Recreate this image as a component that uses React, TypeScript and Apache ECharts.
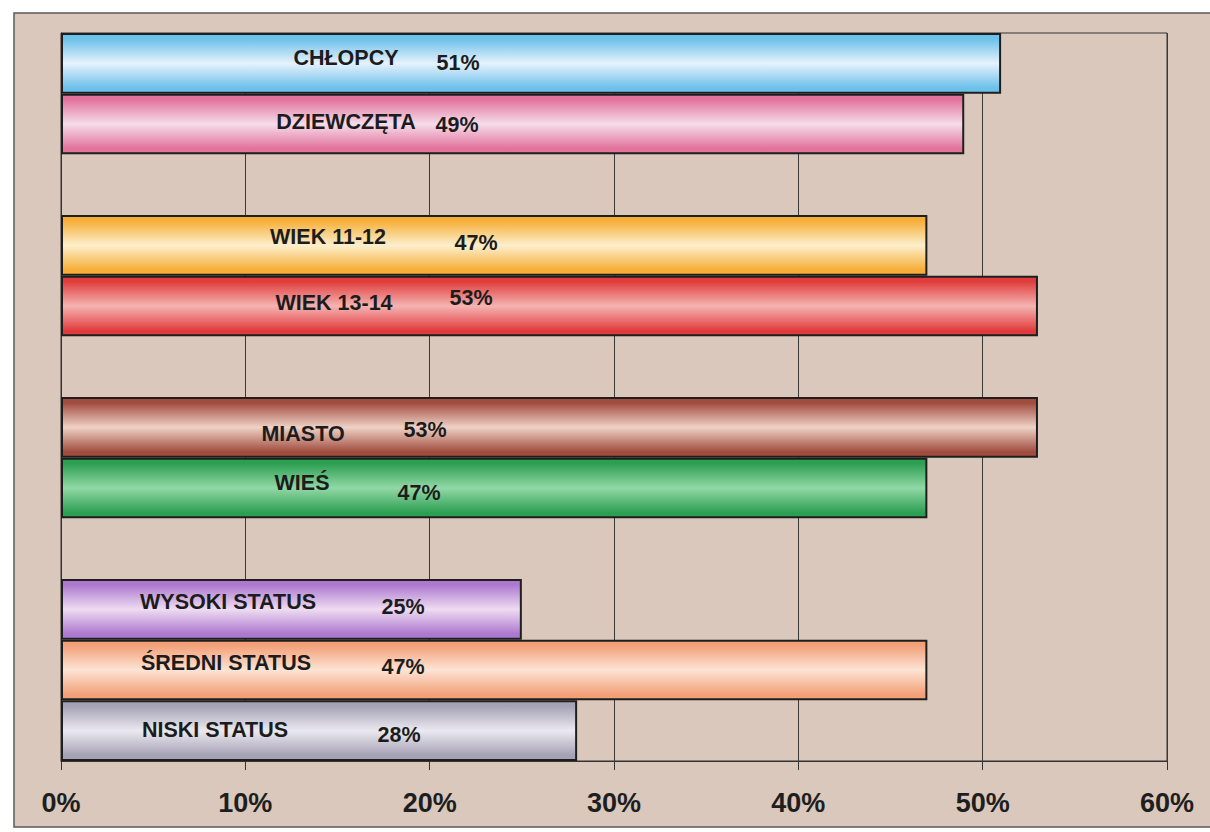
import React, { useEffect, useRef } from "react";
import * as echarts from "echarts";

// ---- data ----
const categories = [
  "CHŁOPCY",
  "DZIEWCZĘTA",
  "",
  "WIEK 11-12",
  "WIEK 13-14",
  " ",
  "MIASTO",
  "WIEŚ",
  "  ",
  "WYSOKI STATUS",
  "ŚREDNI STATUS",
  "NISKI STATUS",
];
const values: (number | null)[] = [51, 49, null, 47, 53, null, 53, 47, null, 25, 47, 28];
const xTicks = [0, 10, 20, 30, 40, 50, 60];

// ---- styles (per bar) ----
const edgeColors = [
  "#6cc0ea", "#e2739a", null, "#f6ae38", "#e13c3c", null,
  "#a04c3e", "#2c9f52", null, "#ad78cf", "#f2a078", "#a6a2b6",
];
const lightColors = [
  "#e6f2fc", "#f6dcea", null, "#fcefcc", "#f4b4b2", null,
  "#efd2c6", "#92d8a6", null, "#eedcf2", "#fde4d4", "#ebe9f0",
];
const nameLabelPos: ([number, number] | null)[] = [
  [285, 25], [285, 28], null, [267, 22], [273, 27], null,
  [242, 37], [241, 25], null, [167, 23], [165, 23], [154, 30],
];
const valueLabelPos: ([number, number] | null)[] = [
  [397, 30], [396, 31], null, [415, 28], [410, 22], null,
  [364, 33], [358, 35], null, [342, 28], [342, 27], [338, 35],
];

const FONT = "'Liberation Sans', Arial, Helvetica, sans-serif";

export default function App() {
  const ref = useRef<HTMLDivElement>(null);

  useEffect(() => {
    if (!ref.current) return;
    const chart = echarts.init(ref.current, null, { renderer: "svg" });

    const labelBase = {
      show: true,
      align: "center",
      verticalAlign: "middle",
      color: "#1c1c1c",
      fontWeight: "bold",
      fontFamily: FONT,
      fontSize: 21.5,
    };

    const barData = values.map((v, i) => {
      if (v === null) return "-";
      return {
        value: v,
        itemStyle: {
          color: new echarts.graphic.LinearGradient(0, 0, 0, 1, [
            { offset: 0, color: edgeColors[i] as string },
            { offset: 0.08, color: edgeColors[i] as string },
            { offset: 0.5, color: lightColors[i] as string },
            { offset: 0.92, color: edgeColors[i] as string },
            { offset: 1, color: edgeColors[i] as string },
          ]),
        },
        label: { ...labelBase, position: nameLabelPos[i] },
      };
    });

    const valueData = values.map((v, i) => {
      if (v === null) return "-";
      return {
        value: v,
        label: { ...labelBase, position: valueLabelPos[i] },
      };
    });

    chart.setOption({
      animation: false,
      backgroundColor: "#ffffff",
      graphic: [
        {
          type: "rect",
          z: -10,
          silent: true,
          shape: { x: 14, y: 13, width: 1200, height: 814 },
          style: { fill: "#d9c8bb", stroke: "#5a5a5a", lineWidth: 1.5 },
        },
      ],
      grid: {
        left: 61,
        top: 33,
        right: 43,
        bottom: 71,
        show: true,
        borderColor: "#333333",
        borderWidth: 1,
        backgroundColor: "transparent",
      },
      xAxis: {
        type: "value",
        min: xTicks[0],
        max: xTicks[xTicks.length - 1],
        interval: 10,
        axisLine: { show: true, lineStyle: { color: "#333333", width: 1 } },
        axisTick: { show: true, length: 9, lineStyle: { color: "#333333" } },
        splitLine: { show: true, lineStyle: { color: "#3a3a3a", width: 1 } },
        axisLabel: {
          formatter: "{value}%",
          color: "#1e1e1e",
          fontWeight: "bold",
          fontFamily: FONT,
          fontSize: 27,
          margin: 28,
        },
      },
      yAxis: {
        type: "category",
        inverse: true,
        data: categories,
        axisLine: { show: true, lineStyle: { color: "#333333" } },
        axisTick: { show: false },
        axisLabel: { show: false },
        splitLine: { show: false },
      },
      series: [
        {
          type: "bar",
          name: "bars",
          data: barData,
          barCategoryGap: "0%",
          barGap: "-100%",
          itemStyle: { borderColor: "#1e1e1e", borderWidth: 2 },
          label: { ...labelBase, formatter: "{b}" },
          z: 3,
        },
        {
          type: "bar",
          name: "values",
          data: valueData,
          barCategoryGap: "0%",
          barGap: "-100%",
          silent: true,
          itemStyle: { color: "transparent", borderWidth: 0 },
          label: { ...labelBase, formatter: "{c}%" },
          z: 4,
        },
      ],
    });

    return () => chart.dispose();
  }, []);

  return (
    <div
      ref={ref}
      style={{ position: "absolute", left: 0, top: 0, width: 1210, height: 832 }}
    />
  );
}
